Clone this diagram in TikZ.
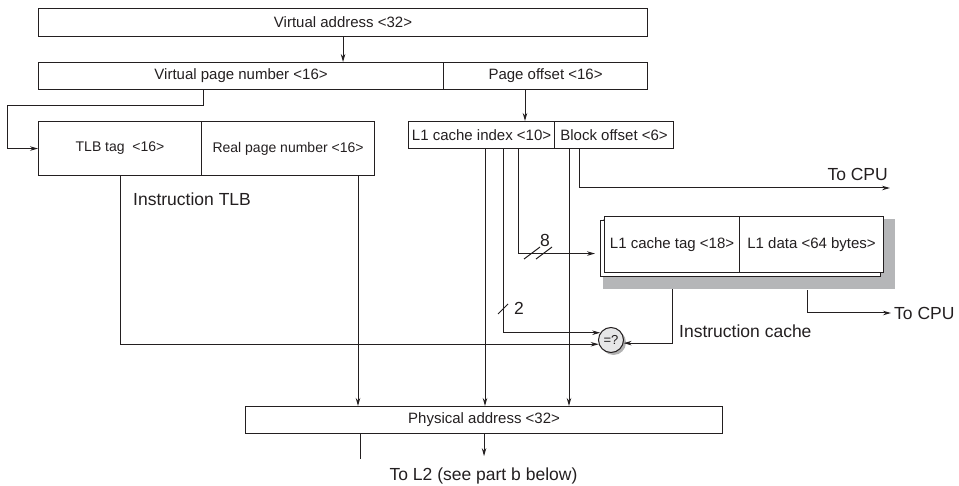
\documentclass[tikz,border=0pt]{standalone}
\usepackage{fontspec}
\setmainfont{Liberation Sans}
\usetikzlibrary{arrows.meta,calc}
\definecolor{ink}{HTML}{231F20}
\definecolor{shade}{HTML}{B5B6B8}
\definecolor{cmpfill}{HTML}{E6E6E7}
\begin{document}
\begin{tikzpicture}[x=1pt,y=-1pt,
  box/.style={draw=ink, line width=1.1pt, rectangle, inner sep=0pt, anchor=north west, text=ink, font=\fontsize{15}{18}\selectfont},
  tlbbox/.style={box, font=\fontsize{14}{17}\selectfont},
  lbl/.style={inner sep=0pt, text=ink, font=\fontsize{17.5}{21}\selectfont},
  con/.style={draw=ink, line width=1pt},
  arr/.style={con, -{Stealth[length=8pt,width=4.5pt]}},
]
\useasboundingbox (0,0) rectangle (959,486);

% boxes
\node[box, minimum width=609pt, minimum height=28pt] (va) at (38,8) {Virtual address <32>};
\node[box, minimum width=405pt, minimum height=27pt] (vpn) at (38,62) {Virtual page number <16>};
\node[box, minimum width=204pt, minimum height=27pt] (poff) at (443,62) {Page offset <16>};
\node[tlbbox, minimum width=163pt, minimum height=54pt] (tlbtag) at (38,121) {TLB tag\ \ <16>};
\node[tlbbox, minimum width=173pt, minimum height=54pt] (rpn) at (201,121) {Real page number <16>};
\node[box, minimum width=146pt, minimum height=27pt] (l1idx) at (408,121) {L1 cache index <10>};
\node[box, minimum width=119pt, minimum height=27pt] (boff) at (554,121) {Block offset <6>};

% instruction cache (stacked, shadowed)
\node[fill=shade, inner sep=0pt, minimum width=292pt, minimum height=70pt, anchor=north west] (cshadow) at (603,219) {};
\node[box, fill=white, minimum width=280pt, minimum height=56pt] (cback) at (600,220) {};
\node[box, fill=white, minimum width=135pt, minimum height=56pt] (ctag) at (604,216) {L1 cache tag <18>};
\node[box, fill=white, minimum width=144pt, minimum height=56pt] (cdata) at (739,216) {L1 data <64 bytes>};

\node[box, minimum width=477pt, minimum height=27pt] (pa) at (245,406) {Physical address <32>};

% comparator
\node[circle, fill=gray!60, minimum size=25pt, inner sep=0pt] (cmpsh) at (613.5,342.5) {};
\node[circle, draw=ink, fill=cmpfill, minimum size=25pt, inner sep=0pt, line width=1pt, text=ink, font=\fontsize{13}{15}\selectfont] (cmp) at (611,340) {=?};

% labels
\node[lbl, anchor=west] (itlb) at (133,199) {Instruction TLB};
\node[lbl, anchor=east] (cpu1) at (888,174) {To CPU};
\node[lbl, anchor=west] (cpu2) at (894,313) {To CPU};
\node[lbl, anchor=west] (icache) at (679,331) {Instruction cache};
\node[lbl] (l2) at (483.5,476) {To L2 (see part b below)};
\node[lbl] (n8) at (545,240) {8};
\node[lbl] (n2) at (519,308) {2};

% coordinates
\coordinate (vpnX) at ($(vpn.south west)+(165,0)$);
\coordinate (poX) at ($(poff.south west)+(82,0)$);
\coordinate (rpnX) at ($(rpn.south west)+(157,0)$);
\coordinate (l1a) at ($(l1idx.south west)+(77,0)$);
\coordinate (l1b) at ($(l1idx.south west)+(95,0)$);
\coordinate (l1c) at ($(l1idx.south west)+(110,0)$);
\coordinate (bo1) at ($(boff.south west)+(15,0)$);
\coordinate (bo2) at ($(boff.south west)+(25,0)$);
\coordinate (cpuEnd) at (890,188);
\coordinate (dX) at ($(cdata.south west)+(68,17)$);
\coordinate (paL) at ($(pa.south west)+(115,0)$);
\coordinate (l2tip) at ($(pa.south)+(0,22)$);

% connectors
\draw[arr] (va.south) -- (va.south |- vpn.north);
\draw[arr] (vpnX) |- (7,106) |- (tlbtag.west);
\draw[arr] (poX) -- (poX |- l1idx.north);
\draw[arr] (rpnX) -- (rpnX |- pa.north);
\draw[arr] (tlbtag.south) |- (cmp.199);
\draw[arr] (l1a) -- (l1a |- pa.north);
\draw[arr] (l1b) |- (cmp.146);
\draw[arr] (l1c) |- ($(cback.west)+(-5,5)$);
\draw[arr] (bo1) -- (bo1 |- pa.north);
\draw[arr] (bo2) |- (cpuEnd);
\draw[arr] (ctag.south |- cshadow.south) |- (cmp.346);
\draw[arr, shorten >=3pt] (dX) |- (cpu2.west);
\draw[arr] (pa.south) -- (l2tip);
\draw[con] (paL) -- ++(0,25);

% bus-width slashes
\draw[con] (524,259) -- (540,247);
\draw[con] (536,259) -- (552,247);
\draw[con] (498,314) -- (508,304);
\end{tikzpicture}
\end{document}
